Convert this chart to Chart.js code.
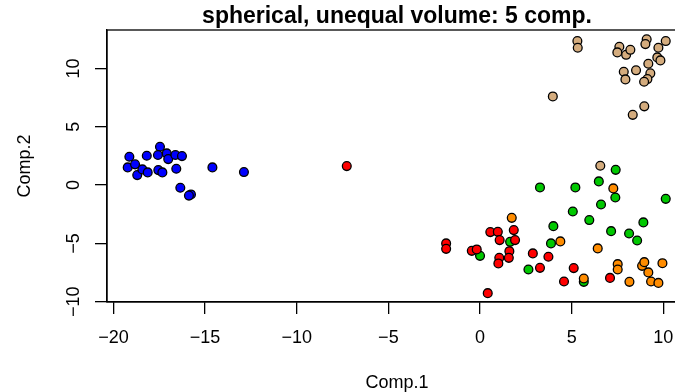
<!DOCTYPE html>
<html>
<head>
<meta charset="utf-8">
<script src="https://cdn.jsdelivr.net/npm/chart.js@4/dist/chart.umd.min.js"></script>
<style>
  html, body { margin: 0; padding: 0; background: #fff; overflow: hidden; }
  #wrap { width: 700px; height: 392px; }
</style>
</head>
<body>
<div id="wrap"><canvas id="myChart" width="700" height="392"></canvas></div>
<script>
// cluster values (Comp.1, Comp.2)
var blueX = [-19.13, -19.22, -18.82, -18.70, -18.42, -18.13, -18.18, -17.46, -17.57, -17.09, -17.01, -16.62, -16.26, -17.55, -17.33, -16.57, -16.35, -15.77, -15.88, -14.60, -12.88];
var blueY = [2.43, 1.52, 1.78, 0.86, 1.35, 1.09, 2.52, 3.29, 2.58, 2.72, 2.23, 2.58, 2.49, 1.29, 1.09, 1.40, -0.23, -0.80, -0.90, 1.52, 1.12];

var redX = [-7.27, -1.85, -1.85, -0.45, -0.18, 0.56, 0.97, 1.07, 1.84, 1.91, 1.60, 1.05, 1.57, 1.00, 2.88, 3.27, 3.73, 0.42, 5.11, 4.58, 7.09];
var redY = [1.63, -5.00, -5.47, -5.64, -5.52, -4.03, -4.01, -4.72, -3.86, -4.72, -5.67, -6.24, -6.24, -6.72, -5.86, -7.10, -6.15, -9.27, -7.12, -8.27, -7.96];

var greenX = [0.00, 1.64, 2.64, 4.00, 3.87, 5.06, 5.96, 6.60, 7.15, 8.13, 8.57, 8.91, 5.66, 7.40, 3.27, 5.20, 6.48, 7.38, 10.13];
var greenY = [-6.07, -4.87, -7.24, -3.52, -5.00, -2.26, -3.00, -1.66, -3.95, -4.15, -4.75, -3.20, -8.30, 1.31, -0.20, -0.20, 0.32, -1.06, -1.18];

var orangeX = [1.73, 4.38, 6.42, 7.27, 5.66, 7.51, 7.51, 8.15, 8.84, 8.96, 9.18, 9.33, 9.73, 9.95];
var orangeY = [-2.81, -4.83, -5.43, -0.28, -8.01, -6.78, -7.24, -8.30, -6.93, -6.61, -7.49, -8.27, -8.39, -6.70];

var tanX = [5.31, 5.33, 3.97, 7.60, 7.49, 7.97, 8.20, 9.09, 9.02, 10.13, 9.73, 9.67, 9.84, 9.18, 7.84, 7.93, 8.51, 9.29, 9.13, 8.95, 8.96, 8.33, 6.56];
var tanY = [12.36, 11.79, 7.61, 11.87, 11.39, 11.18, 11.61, 12.51, 12.10, 12.36, 11.79, 10.96, 10.70, 10.41, 9.73, 9.07, 9.85, 9.59, 9.10, 8.87, 6.76, 6.03, 1.66];

var xTicks = [-20, -15, -10, -5, 0, 5, 10];
var yTicks = [-10, -5, 0, 5, 10];

const FONT = '"Liberation Sans", Arial, Helvetica, sans-serif';

function pts(xs, ys) {
    return xs.map((x, i) => ({ x: x, y: ys[i] }));
}
function fmt(v) {
    return v < 0 ? '\u2212' + Math.abs(v) : String(v);
}

function makeSet(xs, ys, fill) {
    return {
        data: pts(xs, ys),
        backgroundColor: fill,
        borderColor: '#000000',
        borderWidth: 1.3,
        pointRadius: 4.4,
        pointHoverRadius: 4.4
    };
}

// box around the plot + rotated y tick labels like R
const rBox = {
    id: 'rBox',
    afterDraw(chart) {
        const ctx = chart.ctx;
        const a = chart.chartArea;
        ctx.save();
        ctx.strokeStyle = '#000';
        ctx.lineWidth = 1.3;
        ctx.strokeRect(a.left, a.top, a.right - a.left, a.bottom - a.top);

        const s = chart.scales.y;
        ctx.fillStyle = '#000';
        ctx.font = '18px ' + FONT;
        ctx.textAlign = 'center';
        ctx.textBaseline = 'middle';
        s.ticks.forEach(t => {
            ctx.save();
            ctx.translate(s.right - 33, s.getPixelForValue(t.value));
            ctx.rotate(-Math.PI / 2);
            ctx.fillText(fmt(t.value), 0, 0);
            ctx.restore();
        });
        ctx.restore();
    }
};

var ctx = document.getElementById('myChart').getContext('2d');
var chart = new Chart(ctx, {
    type: 'scatter',
    data: {
        datasets: [
            makeSet(orangeX, orangeY, '#FF8C00'),
            makeSet(redX, redY, '#FF0000'),
            makeSet(tanX, tanY, '#D4AC7E'),
            makeSet(blueX, blueY, '#0000FF'),
            makeSet(greenX, greenY, '#00C800')
        ]
    },
    options: {
        responsive: false,
        animation: false,
        events: [],
        layout: { padding: { left: 0, right: 13, top: 0, bottom: 0 } },
        plugins: {
            legend: { display: false },
            tooltip: { enabled: false },
            title: {
                display: true,
                text: 'spherical, unequal volume: 5 comp.',
                color: '#000',
                fullSize: false,
                font: { family: FONT, size: 23, weight: 'bold', lineHeight: 1.2 },
                padding: { top: 2.4, bottom: 0 }
            }
        },
        scales: {
            x: {
                type: 'linear',
                min: -20.35,
                max: 11.29,
                afterBuildTicks: (s) => { s.ticks = xTicks.map(v => ({ value: v })); },
                afterFit: (s) => { s.height = 90; },
                grid: { drawOnChartArea: false, drawTicks: true, tickLength: 12, color: '#000', lineWidth: 1.3 },
                border: { display: true, color: '#000', width: 1.3 },
                ticks: {
                    color: '#000',
                    padding: 13,
                    maxRotation: 0,
                    font: { family: FONT, size: 18 },
                    callback: (v) => fmt(v)
                },
                title: {
                    display: true,
                    text: 'Comp.1',
                    color: '#000',
                    font: { family: FONT, size: 18 },
                    padding: { top: 0, bottom: -2 }
                }
            },
            y: {
                type: 'linear',
                min: -10.03,
                max: 13.31,
                afterBuildTicks: (s) => { s.ticks = yTicks.map(v => ({ value: v })); },
                afterFit: (s) => { s.width = 107; },
                grid: { drawOnChartArea: false, drawTicks: true, tickLength: 12, color: '#000', lineWidth: 1.3 },
                border: { display: true, color: '#000', width: 1.3 },
                ticks: { display: false },
                title: {
                    display: true,
                    text: 'Comp.2',
                    color: '#000',
                    font: { family: FONT, size: 18 },
                    padding: { top: 14, bottom: 0 }
                }
            }
        }
    },
    plugins: [rBox]
});
</script>
</body>
</html>
